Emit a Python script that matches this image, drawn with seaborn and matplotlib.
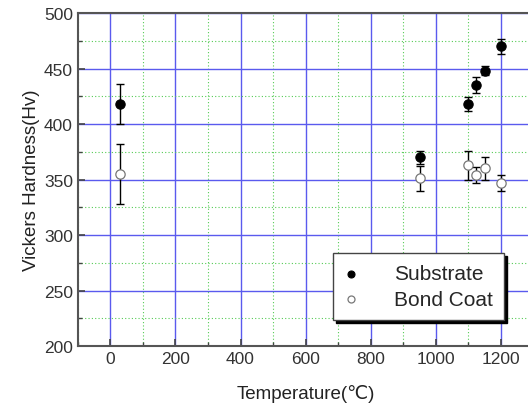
import matplotlib
matplotlib.use("Agg")
import matplotlib.pyplot as plt
from matplotlib.ticker import MultipleLocator
import numpy as np
import pandas as pd
import seaborn as sns

# values
sub_temp = [30, 950, 1100, 1125, 1150, 1200]
sub_hv = [418, 370, 418, 435, 448, 470]
sub_err = [18, 6, 6.5, 7, 4, 7]

bond_temp = [30, 950, 1100, 1125, 1150, 1200]
bond_hv = [355, 351, 363, 354, 360, 347]
bond_err = [27, 11, 13, 7, 10, 7]

sns.set_style("white")
plt.rcParams['font.family'] = ['Liberation Sans', 'DejaVu Sans']

sub = pd.DataFrame({'temp': sub_temp, 'hv': sub_hv})
bond = pd.DataFrame({'temp': bond_temp, 'hv': bond_hv})

fig = plt.figure(figsize=(5.28, 4.06), dpi=100)
# right edge of the frame runs just past the picture, as in the original
ax = fig.add_axes([0.1473, 0.1453, 0.863, 0.820])

ax.set_xlim(-100, 1300)
ax.set_ylim(200, 500)
ax.xaxis.set_major_locator(MultipleLocator(200))
ax.xaxis.set_minor_locator(MultipleLocator(100))
ax.yaxis.set_major_locator(MultipleLocator(50))
ax.yaxis.set_minor_locator(MultipleLocator(25))
ax.grid(which='major', color='#5a5aee', lw=1.0, ls='-')
ax.grid(which='minor', color='#55cc55', lw=0.8, ls=(0, (1, 2)))
ax.set_axisbelow(True)

ax.errorbar(sub_temp, sub_hv, yerr=sub_err, fmt='none', ecolor='black',
            elinewidth=1.0, capsize=3, capthick=1.0, zorder=3)
ax.errorbar(bond_temp, bond_hv, yerr=bond_err, fmt='none', ecolor='black',
            elinewidth=1.0, capsize=3, capthick=1.0, zorder=3)

sns.scatterplot(data=sub, x='temp', y='hv', ax=ax, color='black', s=45,
                edgecolor='black', linewidth=0.8, label='Substrate', zorder=4)
sns.scatterplot(data=bond, x='temp', y='hv', ax=ax, color='white', s=45,
                edgecolor='#777777', linewidth=0.9, label='Bond Coat', zorder=4)

for sp in ax.spines.values():
    sp.set_color('#555555')
    sp.set_linewidth(1.5)

ax.tick_params(which='both', direction='in', colors='#444444', labelcolor='#333333',
               labelsize=12.5, top=False, right=False, bottom=True, left=True)
ax.tick_params(which='major', length=5, width=1.2)
ax.tick_params(which='minor', length=3, width=1.0)

ax.set_xlabel('Temperature(℃)', fontsize=13.5, color='#222222', labelpad=13)
ax.set_ylabel('Vickers Hardness(Hv)', fontsize=13.5, color='#222222', labelpad=3)

leg = ax.legend(loc='lower left', bbox_to_anchor=(0.56, 0.078), borderaxespad=0,
                fontsize=15, frameon=True, fancybox=False, edgecolor='#444444',
                framealpha=1, shadow={'color': 'black', 'alpha': 1},
                handletextpad=1.78, handlelength=0.6, borderpad=0.55,
                labelspacing=0.3, markerscale=0.75)
leg.get_frame().set_linewidth(1.0)

fig.savefig('out.png', dpi=100)
